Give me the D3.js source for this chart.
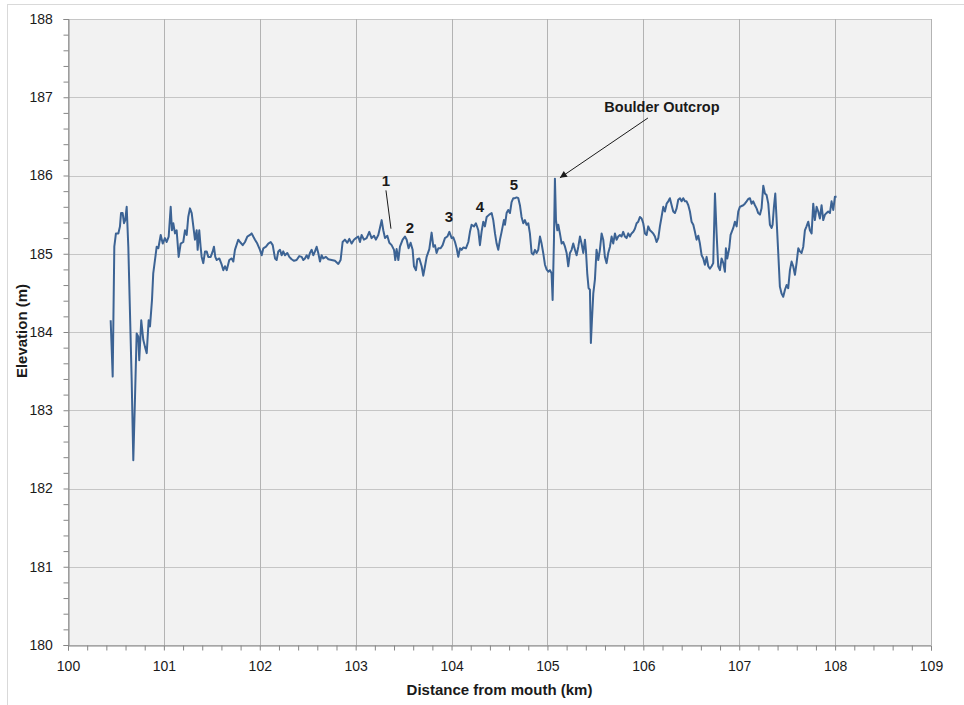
<!DOCTYPE html>
<html>
<head>
<meta charset="utf-8">
<script src="https://cdn.jsdelivr.net/npm/d3@7"></script>
<style>
  body { margin: 0; background: #fff; }
  svg { display: block; font-family: "Liberation Sans", Arial, sans-serif; }
</style>
</head>
<body>
<svg id="chart"></svg>
<script>
// profile: distance from mouth (km) vs bed elevation (m)
var distanceKm = [
  100.445,100.466,100.483,100.500,100.525,100.542,100.553,100.570,100.584,100.597,100.612,100.629,
  100.664,100.681,100.699,100.716,100.733,100.743,100.764,100.785,100.803,100.821,100.841,100.855,
  100.876,100.889,100.925,100.942,100.967,100.988,101.011,101.029,101.050,101.071,101.084,101.098,
  101.116,101.133,101.154,101.175,101.202,101.220,101.238,101.254,101.272,101.290,101.307,101.324,
  101.342,101.352,101.369,101.383,101.394,101.411,101.429,101.446,101.463,101.488,101.509,101.522,
  101.536,101.551,101.578,101.603,101.620,101.637,101.655,101.682,101.707,101.724,101.741,101.776,
  101.794,101.822,101.846,101.870,101.898,101.915,101.932,101.950,101.974,102.002,102.020,102.037,
  102.065,102.089,102.114,102.135,102.159,102.176,102.193,102.211,
  102.228,102.245,102.263,102.287,102.308,102.332,102.357,102.384,102.412,102.437,102.454,102.471,
  102.489,102.506,102.523,102.541,102.558,102.576,102.593,102.610,102.628,102.645,102.662,102.690,
  102.715,102.749,102.784,102.819,102.843,102.864,102.888,102.913,102.934,102.958,102.982,103.003,
  103.027,103.045,103.062,103.086,103.114,103.142,103.166,103.191,103.211,103.236,103.253,103.271,
  103.288,103.306,103.330,103.351,103.375,103.400,103.413,103.427,103.445,103.462,103.490,103.514,
  103.532,103.552,103.573,103.594,103.608,103.629,103.643,103.664,103.688,103.705,103.723,103.740,
  103.768,103.792,103.810,103.827,103.844,103.862,103.886,103.907,103.931,103.956,103.977,104.001,
  104.018,104.036,104.053,104.070,104.088,104.105,104.122,104.150,104.175,104.192,104.209,104.234,
  104.254,104.279,104.296,104.313,104.331,104.348,104.366,104.393,
  104.418,104.435,104.453,104.470,104.487,104.505,104.522,104.546,104.557,104.574,104.591,104.609,
  104.626,104.644,104.661,104.678,104.696,104.713,104.730,104.748,104.765,104.783,104.800,104.817,
  104.835,104.852,104.870,104.887,104.904,104.922,104.939,104.956,104.974,104.991,105.009,105.026,
  105.043,105.054,105.068,105.078,105.089,105.103,105.113,105.130,105.148,105.165,105.183,105.200,
  105.217,105.235,105.252,105.269,105.287,105.304,105.322,105.339,105.356,105.374,105.391,105.401,
  105.415,105.429,105.443,105.453,105.464,105.478,105.495,105.512,105.530,105.547,105.565,105.582,
  105.599,105.617,105.634,105.652,105.669,105.686,105.704,105.721,105.738,105.756,105.773,105.790,
  105.808,105.825,105.843,105.860,105.877,105.895,105.912,105.930,105.947,105.964,105.982,105.999,
  106.017,106.034,106.051,106.069,106.086,106.103,106.121,106.138,106.156,106.173,106.190,106.208,
  106.225,106.243,106.260,106.277,106.295,106.312,106.329,106.347,106.364,106.382,
  106.399,106.416,106.434,106.451,106.469,106.486,106.503,106.521,106.538,106.555,106.573,106.590,
  106.608,106.625,106.642,106.660,106.677,106.694,106.712,106.729,106.747,106.764,106.781,106.799,
  106.816,106.834,106.851,106.861,106.875,106.896,106.910,106.938,106.955,106.973,106.990,107.007,
  107.025,107.042,107.059,107.077,107.094,107.112,107.129,107.146,107.164,107.181,107.198,107.216,
  107.233,107.251,107.268,107.285,107.303,107.320,107.338,107.348,107.362,107.376,107.390,107.407,
  107.424,107.442,107.459,107.477,107.494,107.511,107.529,107.546,107.563,107.581,107.598,107.616,
  107.633,107.650,107.668,107.685,107.702,107.720,107.737,107.755,107.772,107.789,107.807,107.824,
  107.841,107.859,107.876,107.894,107.911,107.928,107.946,107.963,107.981,107.998,108.015
];
var elevationM = [
  184.15,183.43,185.09,185.26,185.26,185.35,185.52,185.52,185.39,185.43,185.60,185.09,
  183.39,182.36,183.17,183.98,183.94,183.64,184.15,183.90,183.81,183.73,184.15,184.07,
  184.41,184.75,185.09,185.07,185.24,185.13,185.20,185.15,185.22,185.60,185.30,185.39,
  185.26,185.30,184.96,185.13,185.15,185.30,185.24,185.47,185.58,185.52,185.35,185.18,
  185.30,185.05,185.30,185.09,184.96,184.88,185.03,185.03,184.96,184.96,185.03,185.09,
  184.96,184.92,184.94,184.86,184.79,184.84,184.79,184.92,184.94,184.90,185.05,185.18,
  185.15,185.11,185.15,185.22,185.24,185.26,185.22,185.18,185.13,185.05,184.98,185.07,
  185.09,185.13,185.15,185.11,184.94,184.92,185.03,185.05,
  184.98,185.03,184.98,185.01,184.96,184.93,184.91,184.92,184.97,184.96,184.92,184.94,
  184.98,184.94,185.01,185.05,184.98,185.03,185.09,185.01,184.90,184.98,184.94,184.96,
  184.93,184.92,184.91,184.87,184.92,185.15,185.18,185.14,185.19,185.13,185.18,185.20,
  185.22,185.15,185.24,185.18,185.20,185.28,185.20,185.23,185.18,185.24,185.33,185.43,
  185.30,185.20,185.23,185.14,185.11,185.05,184.92,185.06,184.92,185.09,185.18,185.22,
  185.18,185.07,185.14,185.05,184.84,184.79,184.93,184.94,184.84,184.72,184.84,184.96,
  185.06,185.27,185.09,185.11,185.01,185.07,185.07,185.11,185.20,185.22,185.28,185.20,
  185.21,185.15,185.07,184.96,185.07,185.05,185.08,185.07,185.15,185.28,185.37,185.35,
  185.39,185.30,185.11,185.28,185.41,185.35,185.47,185.50,
  185.52,185.43,185.26,185.13,185.05,185.18,185.28,185.43,185.37,185.52,185.56,185.52,
  185.66,185.71,185.71,185.72,185.71,185.62,185.47,185.39,185.43,185.37,185.39,185.26,
  185.01,184.99,185.05,185.01,185.05,185.22,185.13,185.01,184.86,184.80,184.77,184.79,
  184.75,184.41,185.18,185.96,185.43,185.30,185.37,185.26,185.13,185.15,185.09,185.01,
  184.84,185.01,185.05,185.13,185.05,184.98,185.09,185.22,185.13,185.01,185.18,185.05,
  184.75,184.56,184.54,183.86,184.15,184.49,184.67,185.05,184.92,185.05,185.26,185.18,
  184.96,184.88,185.01,185.09,185.22,185.13,185.26,185.18,185.22,185.24,185.22,185.28,
  185.22,185.20,185.26,185.22,185.26,185.28,185.32,185.39,185.41,185.47,185.45,185.39,
  185.26,185.24,185.35,185.30,185.28,185.26,185.22,185.15,185.20,185.35,185.47,185.60,
  185.54,185.64,185.67,185.71,185.62,185.54,185.52,185.58,185.69,185.71,
  185.67,185.71,185.67,185.67,185.62,185.54,185.41,185.37,185.28,185.18,185.23,185.13,
  184.98,184.94,184.86,184.96,184.84,184.81,184.84,184.88,185.77,185.26,184.84,184.79,
  184.94,184.88,184.77,185.07,184.94,185.07,185.24,185.33,185.41,185.35,185.54,185.60,
  185.61,185.62,185.64,185.67,185.70,185.71,185.64,185.67,185.62,185.58,185.52,185.50,
  185.58,185.87,185.77,185.75,185.64,185.37,185.33,185.37,185.60,185.77,185.43,185.01,
  184.58,184.49,184.45,184.54,184.60,184.56,184.79,184.90,184.84,184.73,184.88,185.07,
  185.03,185.01,185.09,185.30,185.35,185.41,185.30,185.26,185.64,185.43,185.60,185.54,
  185.45,185.62,185.43,185.50,185.52,185.54,185.52,185.67,185.56,185.73,185.73
];

var xTicks = [100,101,102,103,104,105,106,107,108,109];
var yTicks = [180,181,182,183,184,185,186,187,188];

// numbered features and the boulder outcrop note
var noteLabels = ["1","2","3","4","5"];
var noteKm = [103.316,103.566,103.973,104.296,104.651];
var noteM  = [185.93,185.33,185.47,185.60,185.88];
var outcropText = "Boulder Outcrop";
var outcropKm = 106.194, outcropM = 186.875;

var width = 964, height = 705;
var margin = {top: 19, right: 33, bottom: 60, left: 68};

var svg = d3.select('#chart')
    .attr('width', width)
    .attr('height', height);

// outer chart frame
svg.append('rect')
    .attr('x', 7.5).attr('y', 4.5)
    .attr('width', 980).attr('height', 720)
    .attr('fill', '#fff')
    .attr('stroke', '#d9d9d9');

var x = d3.scaleLinear().domain([100, 109]).range([margin.left, width - margin.right]);
var y = d3.scaleLinear().domain([180, 188]).range([height - margin.bottom, margin.top]);

svg.append('rect')
    .attr('x', x(100)).attr('y', y(188))
    .attr('width', x(109) - x(100)).attr('height', y(180) - y(188))
    .attr('fill', '#f2f2f2');

// grid
svg.append('g').selectAll('line').data(yTicks).enter().append('line')
    .attr('x1', x(100)).attr('x2', x(109))
    .attr('y1', function(d) { return Math.round(y(d)) + 0.5; })
    .attr('y2', function(d) { return Math.round(y(d)) + 0.5; })
    .attr('stroke', '#c6c6c6');
svg.append('g').selectAll('line').data(xTicks).enter().append('line')
    .attr('y1', y(180)).attr('y2', y(188))
    .attr('x1', function(d) { return Math.round(x(d)) + 0.5; })
    .attr('x2', function(d) { return Math.round(x(d)) + 0.5; })
    .attr('stroke', '#b3b3b3');

// axes
var xAxis = d3.axisBottom(x).tickValues(d3.range(100, 109.01, 0.2))
    .tickSize(5).tickFormat(function(d) {
      return Math.abs(d - Math.round(d)) < 1e-6 ? Math.round(d) : '';
    });
var yAxis = d3.axisLeft(y).tickValues(d3.range(180, 188.01, 0.2))
    .tickSize(5).tickFormat(function(d) {
      return Math.abs(d - Math.round(d)) < 1e-6 ? Math.round(d) : '';
    });

var gx = svg.append('g')
    .attr('transform', 'translate(0,' + (Math.round(y(180)) + 0.5) + ')')
    .call(xAxis);
var gy = svg.append('g')
    .attr('transform', 'translate(' + (Math.round(x(100)) + 0.5) + ',0)')
    .call(yAxis);

[gx, gy].forEach(function(g) {
  g.select('.domain').attr('stroke', '#868686');
  g.selectAll('.tick line').attr('stroke', '#868686');
  g.selectAll('.tick text').attr('fill', '#1a1a1a')
    .style('font-size', '14px');
});
gx.selectAll('.tick text').attr('dy', '1.25em');
gy.selectAll('.tick text').attr('dx', '-0.55em');

// profile line
var line = d3.line()
    .x(function(d, i) { return x(distanceKm[i]); })
    .y(function(d) { return y(d); });

svg.append('path')
    .datum(elevationM)
    .attr('d', line)
    .attr('fill', 'none')
    .attr('stroke', '#3c6394')
    .attr('stroke-width', 2)
    .attr('stroke-linejoin', 'round');

// axis titles
svg.append('text')
    .attr('x', (x(100) + x(109)) / 2).attr('y', 695)
    .attr('text-anchor', 'middle')
    .style('font-size', '15px').style('font-weight', 'bold')
    .attr('fill', '#1a1a1a')
    .text('Distance from mouth (km)');
svg.append('text')
    .attr('transform', 'translate(27,' + (y(184) - 1) + ') rotate(-90)')
    .attr('text-anchor', 'middle')
    .style('font-size', '15px').style('font-weight', 'bold')
    .attr('fill', '#1a1a1a')
    .text('Elevation (m)');

// annotations
svg.append('g').selectAll('text').data(noteLabels).enter().append('text')
    .attr('x', function(d, i) { return x(noteKm[i]); })
    .attr('y', function(d, i) { return y(noteM[i]); })
    .attr('dy', '0.36em')
    .attr('text-anchor', 'middle')
    .style('font-size', '15px').style('font-weight', 'bold')
    .attr('fill', '#1a1a1a')
    .text(function(d) { return d; });

svg.append('line')
    .attr('x1', x(103.316)).attr('y1', y(185.81))
    .attr('x2', x(103.368)).attr('y2', y(185.32))
    .attr('stroke', '#1a1a1a').attr('stroke-width', 1);

svg.append('defs').append('marker')
    .attr('id', 'arrow')
    .attr('viewBox', '0 0 10 10')
    .attr('refX', 10).attr('refY', 5)
    .attr('markerWidth', 10).attr('markerHeight', 7)
    .attr('markerUnits', 'userSpaceOnUse')
    .attr('orient', 'auto')
    .append('path').attr('d', 'M0,0L10,5L0,10z').attr('fill', '#1a1a1a');

svg.append('line')
    .attr('x1', x(106.048)).attr('y1', y(186.735))
    .attr('x2', x(105.13)).attr('y2', y(185.97))
    .attr('stroke', '#1a1a1a').attr('stroke-width', 1)
    .attr('marker-end', 'url(#arrow)');

svg.append('text')
    .attr('x', x(outcropKm)).attr('y', y(outcropM))
    .attr('dy', '0.36em')
    .attr('text-anchor', 'middle')
    .style('font-size', '14.5px').style('font-weight', 'bold')
    .attr('fill', '#1a1a1a')
    .text(outcropText);
</script>
</body>
</html>
